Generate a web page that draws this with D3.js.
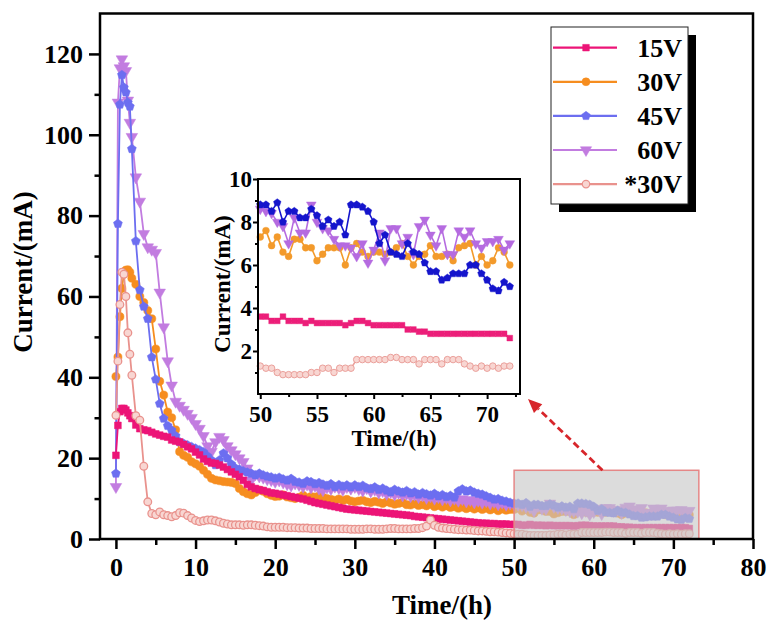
<!DOCTYPE html>
<html><head><meta charset="utf-8">
<script src="https://cdn.jsdelivr.net/npm/d3@7"></script>
<style>
body{margin:0;background:#fff}
svg{display:block}
text{font-family:"Liberation Serif","Times New Roman",serif;font-weight:bold;fill:#000}
</style>
</head><body>
<svg id="chart" width="768" height="622"></svg>
<script>
// ---------------- DATA ----------------
const hours = [0,0.25,0.5,0.75,1,1.25,1.5,1.75,2,
2.5,3,3.5,4,4.5,5,5.5,6,6.5,7,7.5,8,8.5,9,9.5,10,
10.5,11,11.5,12,12.5,13,13.5,14,14.5,15,15.5,16,16.5,17,17.5,18,18.5,19,19.5,20,
20.5,21,21.5,22,22.5,23,23.5,24,24.5,25,25.5,26,26.5,27,27.5,28,28.5,29,29.5,30,
30.5,31,31.5,32,32.5,33,33.5,34,34.5,35,35.5,36,36.5,37,37.5,38,38.5,39,39.5,40,
40.5,41,41.5,42,42.5,43,43.5,44,44.5,45,45.5,46,46.5,47,47.5,48,48.5,49,49.5,50,
50.5,51,51.5,52,52.5,53,53.5,54,54.5,55,55.5,56,56.5,57,57.5,58,58.5,59,59.5,60,
60.5,61,61.5,62,62.5,63,63.5,64,64.5,65,65.5,66,66.5,67,67.5,68,68.5,69,69.5,70,70.5,71,71.5,72];

const current15V = [20.7,28.1,31.5,32.3,32.3,31.9,31.2,30.5,29.8,
28.2,27.3,27.0,26.8,26.4,26.0,25.7,25.4,25.2,24.5,24.2,24.0,23.4,22.8,22.3,21.5,
20.8,19.8,19.2,18.8,18.7,18.3,17.8,17.2,16.6,16.0,15.4,14.5,13.5,12.9,12.5,12.2,12.0,11.7,11.4,11.3,
11.1,10.9,10.7,10.5,10.3,10.1,9.9,9.6,9.3,9.0,8.8,8.6,8.4,8.2,8.0,7.8,7.6,7.4,7.3,7.2,
7.1,7.0,6.9,6.8,6.7,6.6,6.5,6.4,6.3,6.2,6.1,6.0,5.9,5.8,5.6,5.5,5.4,5.3,5.2,5.1,
5.0,4.9,4.8,4.7,4.6,4.5,4.4,4.3,4.2,4.1,4.0,3.9,3.9,3.8,3.8,3.7,3.7,3.7,3.6,3.6,
3.6,3.4,3.4,3.6,3.4,3.4,3.4,3.3,3.4,3.3,3.3,3.3,3.3,3.3,3.2,3.3,3.4,3.4,3.3,3.2,
3.2,3.2,3.2,3.2,3.2,3.0,3.0,2.9,2.9,2.8,2.8,2.8,2.8,2.8,2.8,2.8,2.8,2.8,2.8,2.8,2.8,2.8,2.8,2.6];

const current30V = [40.2,45,55,62,65.5,66.5,66.6,66,64.5,
63,60,58.5,56.5,54.5,47,39,35.6,31.4,30,27,21.6,20.7,20.2,19.1,18.6,
18,17,16,15,14.6,14.4,14.2,14.1,14,13.7,12.5,11.7,11.2,10.9,11.5,12.1,11.8,11.2,10.8,10.5,
10.6,10.9,10.4,10.2,10.0,10.3,10.8,10.2,10.5,10.4,10.6,10.3,10.0,9.8,9.6,9.9,9.5,9.8,9.4,9.2,
9.4,9.6,9.2,9.0,9.3,9.1,8.8,9.2,8.9,8.6,8.8,9.0,8.5,8.4,8.7,8.3,8.5,8.2,8.6,8.0,
8.3,7.9,8.2,7.8,8.0,7.6,7.9,7.5,7.8,7.4,7.7,7.3,7.6,7.2,7.5,7.0,7.4,7.1,7.3,7.3,
7.6,6.9,7.3,6.6,6.4,7.2,7.2,6.8,6.8,6.2,6.5,6.8,6.8,6.8,6.0,6.8,7.0,6.6,6.4,6.6,
6.6,6.5,6.6,6.8,7.0,6.4,6.0,6.4,6.5,6.9,6.4,6.4,6.5,6.2,6.8,6.9,7.0,6.0,6.4,6.0,6.2,6.8,6.6,6.0];

const current45V = [16.2,78,107.5,114.8,111.7,110.5,108,107,96.5,
73.7,61.6,57.5,54.5,45,39.5,33.5,29.8,28,26.9,25.5,24,23.6,23.2,22.8,22.4,
22,21.5,20.5,19.5,18.3,19.5,21.2,20,18.5,17.5,17.2,16.8,16.5,16.2,15.8,16.2,15.8,15.5,15.3,15.0,
15.2,14.8,14.5,14.9,14.2,14.0,13.7,14.3,14.1,13.6,13.9,13.5,13.2,13.6,12.9,13.4,13.0,13.3,12.8,13.3,
12.9,13.2,12.6,12.4,12.8,12.2,12.5,12.0,11.6,12.2,11.8,11.5,11.9,11.3,11.6,11.0,11.4,11.1,10.8,11.2,
10.6,10.9,10.4,10.7,10.3,11.8,12.3,11.8,12.0,11.5,11.2,11.0,10.6,10.2,9.8,9.9,9.5,9.3,9.0,8.8,
8.8,8.5,8.9,8.0,8.5,8.5,8.2,8.2,8.6,8.3,7.8,8.1,7.8,8.0,7.4,8.8,8.8,8.7,8.5,8.0,
7.0,7.4,6.6,6.5,6.4,7.0,6.6,6.5,6.1,5.7,5.7,5.3,5.4,5.6,5.6,5.6,6.0,6.0,5.6,5.3,4.9,4.8,5.2,5.0];

const current60V = [12.9,108,116.5,118.7,117,115.8,108.5,103,99.5,
89.5,83.5,75.5,72.2,71.6,70.8,61,52.4,44,38,34,33,32,31,30,28.5,
27.3,25.5,23,21.6,24,25.3,24.5,23,22,21,20,19.1,17.5,14.6,16,15.5,15.2,14.8,14.6,14.2,
14.5,14.0,13.6,13.3,13.8,13.4,13.0,13.5,12.8,13.2,12.5,12.1,12.8,12.4,13.0,12.6,12.2,12.9,12.5,12.9,
12.4,12.0,12.6,11.8,12.2,11.5,11.9,11.2,11.6,11.0,11.4,10.8,11.2,10.6,11.0,10.4,10.8,10.2,10.6,10.0,
10.4,9.8,10.2,9.6,10.0,9.5,9.9,9.3,9.7,9.1,9.5,9.0,9.4,8.8,9.2,8.6,9.0,8.5,8.8,8.6,
8.5,8.4,8.0,7.8,7.0,8.2,7.5,7.5,8.8,8.0,7.7,7.6,7.2,6.9,6.9,6.8,6.4,7.0,6.1,6.7,
7.5,6.2,7.7,7.7,7.0,7.3,6.5,7.8,8.1,7.4,6.9,7.7,6.5,6.5,7.6,7.3,7.6,7.0,6.8,7.1,7.1,7.2,6.7,7.0];

const currentStar30V = [30.6,44,58,66,65.5,60,51,45.7,40.5,
30.5,29.4,18,9.2,6.3,6.0,6.7,6.0,5.8,5.5,5.8,6.5,6.4,5.8,5.2,4.6,
4.3,4.5,4.7,4.7,4.5,4.2,3.9,3.7,3.5,3.5,3.5,3.4,3.5,3.5,3.4,3.3,3.2,3.0,2.9,2.9,
2.9,2.9,2.8,2.8,2.8,2.7,2.7,2.7,2.6,2.6,2.6,2.6,2.5,2.5,2.5,2.5,2.5,2.5,2.4,2.4,
2.4,2.4,2.5,2.5,2.4,2.4,2.4,2.5,2.6,2.6,2.5,2.5,2.5,2.5,2.6,2.6,2.8,3.2,4.7,3.4,
2.9,2.7,2.6,2.5,2.4,2.3,2.3,2.2,2.2,2.1,2.0,2.0,1.9,1.8,1.8,1.7,1.6,1.5,1.4,1.3,
1.2,1.2,1.0,0.9,0.9,0.9,0.9,0.9,1.0,1.0,1.2,1.2,1.0,1.2,1.2,1.2,1.6,1.6,1.6,1.6,
1.6,1.6,1.7,1.7,1.6,1.6,1.6,1.4,1.6,1.6,1.6,1.4,1.6,1.6,1.6,1.4,1.3,1.2,1.3,1.2,1.3,1.2,1.3,1.3];

const seriesNames = ["15V","30V","45V","60V","*30V"];
const xTicks = [0,10,20,30,40,50,60,70,80];
const yTicks = [0,20,40,60,80,100,120];
const insetXTicks = [50,55,60,65,70];
const insetYTicks = [2,4,6,8,10];
const zoomWindow = {t0:50, t1:73.2, v1:17};

// ---------------- SETUP ----------------
const svg = d3.select("#chart");
const x = d3.scaleLinear().domain([-2,80]).range([100,753]);
const y = d3.scaleLinear().domain([0,130]).range([539,13.5]);

const pentagon = {draw(ctx,size){const r=Math.sqrt(size/2.378);for(let i=0;i<5;i++){const a=-Math.PI/2+i*2*Math.PI/5;const px=r*Math.cos(a),py=r*Math.sin(a);i?ctx.lineTo(px,py):ctx.moveTo(px,py);}ctx.closePath();}};
const triDown = {draw(ctx,size){const r=Math.sqrt(size/1.299);ctx.moveTo(0,r);ctx.lineTo(-r*0.866,-r*0.5);ctx.lineTo(r*0.866,-r*0.5);ctx.closePath();}};

const series = [
 {name:seriesNames[0], vals:current15V, color:"#EC1477", inset:"#EC1E79", fill:null, sym:d3.symbolSquare, size:46},
 {name:seriesNames[1], vals:current30V, color:"#F68D1F", inset:"#F39A2B", fill:null, sym:d3.symbolCircle, size:52},
 {name:seriesNames[2], vals:current45V, color:"#6C6EF0", inset:"#1515CC", fill:null, sym:pentagon, size:52},
 {name:seriesNames[3], vals:current60V, color:"#C27CE0", inset:"#B56BE0", fill:null, sym:triDown, size:58},
 {name:seriesNames[4], vals:currentStar30V, color:"#E9928D", inset:"#EBA09B", fill:"#F8D6D2", sym:d3.symbolCircle, size:46}
];
series.forEach(s=>{s.pts=hours.map((h,i)=>({t:h,v:s.vals[i]}));});

const drawOrder = [1,3,2,0,4];

// ---------------- MAIN PLOT ----------------
const main = svg.append("g");
drawOrder.forEach(k=>{
  const s = series[k];
  const g = main.append("g");
  g.append("path").datum(s.pts)
    .attr("fill","none").attr("stroke",s.color).attr("stroke-width",1.8)
    .attr("d",d3.line().x(d=>x(d.t)).y(d=>y(d.v)));
  g.selectAll("path.m").data(s.pts).join("path").attr("class","m")
    .attr("transform",d=>`translate(${x(d.t)},${y(d.v)})`)
    .attr("d",d3.symbol(s.sym,s.size))
    .attr("fill",s.fill||s.color).attr("stroke",s.color).attr("stroke-width",s.fill?1.3:0.5);
});

// zoom window
main.append("rect")
  .attr("x",x(zoomWindow.t0)).attr("y",y(zoomWindow.v1))
  .attr("width",x(zoomWindow.t1)-x(zoomWindow.t0)).attr("height",y(0)-y(zoomWindow.v1))
  .attr("fill","#c6c6c6").attr("fill-opacity",0.62)
  .attr("stroke","#E58787").attr("stroke-width",1.5);

// axes
const fs = 26;
const xAx = svg.append("g").attr("transform",`translate(0,${y(0)})`)
  .call(d3.axisBottom(x).tickValues(xTicks).tickSize(10).tickPadding(9).tickFormat(d3.format("d")));
const xMin = svg.append("g").attr("transform",`translate(0,${y(0)})`)
  .call(d3.axisBottom(x).tickValues([5,15,25,35,45,55,65,75]).tickSize(6).tickFormat(""));
const yAx = svg.append("g").attr("transform",`translate(${x(-2)},0)`)
  .call(d3.axisLeft(y).tickValues(yTicks).tickSize(11).tickPadding(6).tickFormat(d3.format("d")));
const yMin = svg.append("g").attr("transform",`translate(${x(-2)},0)`)
  .call(d3.axisLeft(y).tickValues([10,30,50,70,90,110]).tickSize(5.5).tickFormat(""));
[xAx,xMin,yAx,yMin].forEach(a=>{
  a.select(".domain").remove();
  a.selectAll(".tick line").attr("stroke","#000").attr("stroke-width",2.5);
  a.selectAll("text").attr("font-size",fs).attr("font-family",null).style("font-family",'"Liberation Serif",serif').attr("fill","#000");
});
svg.append("rect").attr("x",x(-2)).attr("y",y(130)).attr("width",x(80)-x(-2)).attr("height",y(0)-y(130))
  .attr("fill","none").attr("stroke","#000").attr("stroke-width",2.5);

svg.append("text").attr("x",442).attr("y",614).attr("text-anchor","middle").attr("font-size",27).text("Time/(h)");
svg.append("text").attr("transform","translate(32,272) rotate(-90)").attr("text-anchor","middle").attr("font-size",27).text("Current/(mA)");

// ---------------- LEGEND ----------------
const lg = svg.append("g");
lg.append("rect").attr("x",559).attr("y",35).attr("width",137).attr("height",177).attr("fill","#000");
lg.append("rect").attr("x",551).attr("y",27).attr("width",137).attr("height",177).attr("fill","#fff").attr("stroke","#222").attr("stroke-width",1);
series.forEach((s,i)=>{
  const yy = 47.7 + i*34.1;
  lg.append("line").attr("x1",553).attr("x2",617).attr("y1",yy).attr("y2",yy).attr("stroke",s.color).attr("stroke-width",2.2);
  lg.append("path").attr("transform",`translate(586,${yy})`).attr("d",d3.symbol(s.sym,s.size*0.95))
    .attr("fill",s.fill||s.color).attr("stroke",s.color).attr("stroke-width",s.fill?1.2:0.5);
  lg.append("text").attr("x",682).attr("y",yy+9).attr("text-anchor","end").attr("font-size",26).text(s.name);
});

// ---------------- INSET ----------------
const ix = d3.scaleLinear().domain([49.8,72.9]).range([258,520]);
const iy = d3.scaleLinear().domain([0,10]).range([394,179]);
const ins = svg.append("g");
ins.append("rect").attr("x",258).attr("y",179).attr("width",262).attr("height",215).attr("fill","#fff");
drawOrder.forEach(k=>{
  const s = series[k];
  const pts = s.pts.filter(d=>d.t>=50);
  const g = ins.append("g");
  g.append("path").datum(pts).attr("fill","none").attr("stroke",s.inset).attr("stroke-width",1.6)
    .attr("d",d3.line().x(d=>ix(d.t)).y(d=>iy(d.v)));
  g.selectAll("path.m").data(pts).join("path").attr("class","m")
    .attr("transform",d=>`translate(${ix(d.t)},${iy(d.v)})`)
    .attr("d",d3.symbol(s.sym,s.size*0.72))
    .attr("fill",s.fill||s.inset).attr("stroke",s.inset).attr("stroke-width",s.fill?1:0.4);
});
const ixA = ins.append("g").attr("transform","translate(0,394)")
  .call(d3.axisBottom(ix).tickValues(insetXTicks).tickSize(5).tickPadding(7).tickFormat(d3.format("d")));
const ixM = ins.append("g").attr("transform","translate(0,394)")
  .call(d3.axisBottom(ix).tickValues([52.5,57.5,62.5,67.5,72.5]).tickSize(3).tickFormat(""));
const iyA = ins.append("g").attr("transform","translate(258,0)")
  .call(d3.axisLeft(iy).tickValues(insetYTicks).tickSize(5).tickPadding(1).tickFormat(d3.format("d")));
const iyM = ins.append("g").attr("transform","translate(258,0)")
  .call(d3.axisLeft(iy).tickValues([1,3,5,7,9]).tickSize(3).tickFormat(""));
[ixA,ixM,iyA,iyM].forEach(a=>{
  a.select(".domain").remove();
  a.selectAll(".tick line").attr("stroke","#000").attr("stroke-width",2);
  a.selectAll("text").attr("font-size",23).attr("font-family",null).style("font-family",'"Liberation Serif",serif').attr("fill","#000");
});
ins.append("rect").attr("x",258).attr("y",179).attr("width",262).attr("height",215).attr("fill","none").attr("stroke","#000").attr("stroke-width",2);
ins.append("text").attr("x",394).attr("y",446).attr("text-anchor","middle").attr("font-size",23).text("Time/(h)");
ins.append("text").attr("transform","translate(230,284) rotate(-90)").attr("text-anchor","middle").attr("font-size",23).text("Current/(mA)");

// ---------------- ARROW ----------------
const ax0 = x(61.1), ay0 = y(zoomWindow.v1);
const ax1 = 528, ay1 = 399;
const ang = Math.atan2(ay1-ay0, ax1-ax0);
const hl = 14, hw = 6;
const bx = ax1 - hl*Math.cos(ang), by = ay1 - hl*Math.sin(ang);
svg.append("line").attr("x1",ax0).attr("y1",ay0).attr("x2",bx).attr("y2",by)
  .attr("stroke","#D7262B").attr("stroke-width",2.8).attr("stroke-dasharray","7,4");
svg.append("path").attr("d",`M${ax1},${ay1}L${bx+hw*Math.sin(ang)},${by-hw*Math.cos(ang)}L${bx-hw*Math.sin(ang)},${by+hw*Math.cos(ang)}Z`)
  .attr("fill","#D7262B");
</script>
</body></html>
